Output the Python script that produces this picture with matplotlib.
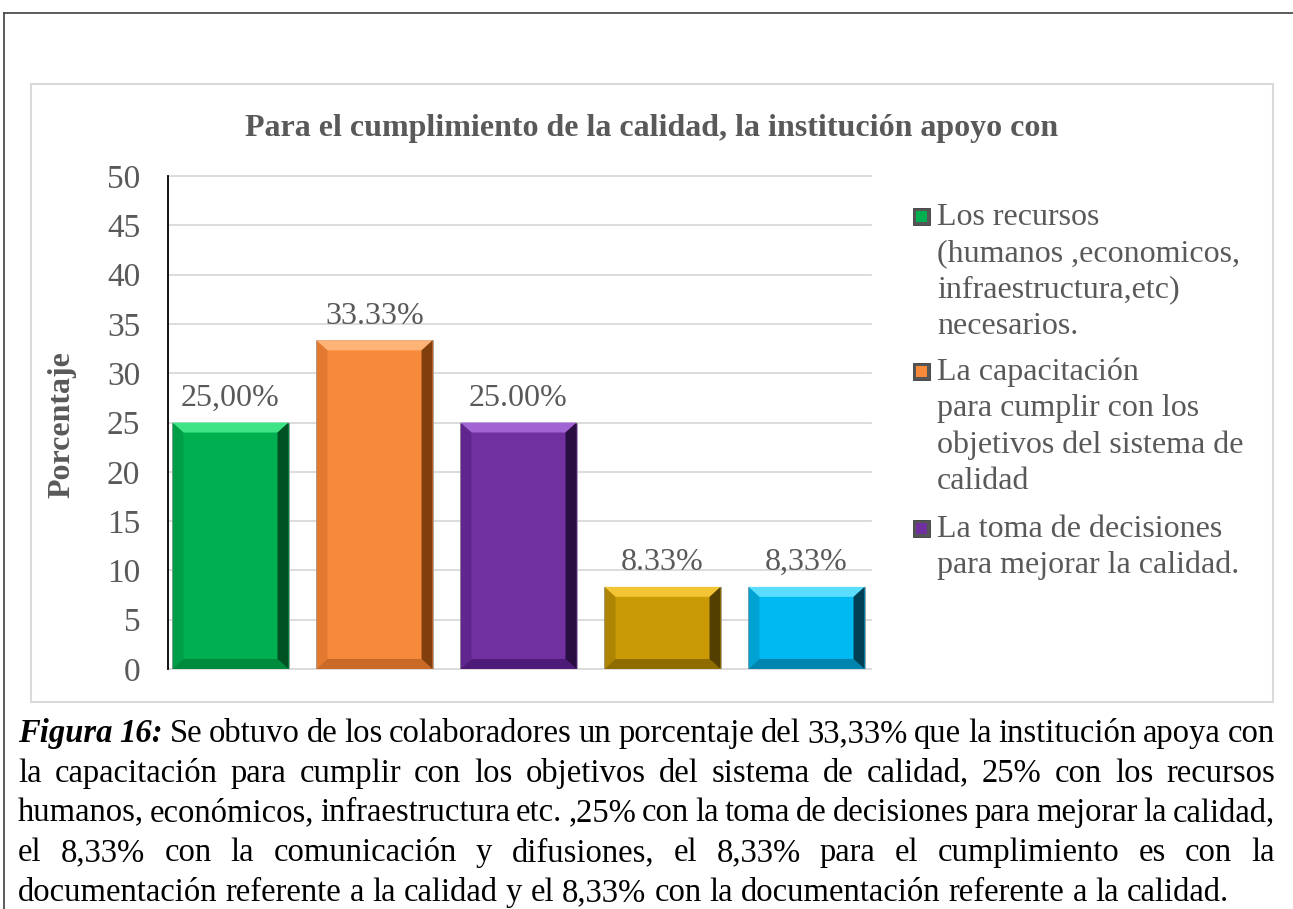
import numpy as np
import matplotlib
matplotlib.use("Agg")
import matplotlib.pyplot as plt
from matplotlib.patches import Rectangle, Polygon
from matplotlib.lines import Line2D

# datos
valores = [25.00, 33.33, 25.00, 8.33, 8.33]
etiquetas = ["25,00%", "33.33%", "25.00%", "8.33%", "8,33%"]
colores = ["#00B050", "#F7893B", "#7030A0", "#C99A06", "#00B9F2"]
# (claro, oscuro, medio) para el biselado
bisel = [("#3FE487", "#00401C", "#008A3E"),
         ("#FFB477", "#6E3206", "#C96A26"),
         ("#A264D2", "#1C0830", "#4F1B78"),
         ("#F3C433", "#3E3000", "#8E6C00"),
         ("#5ADDFF", "#002A38", "#0085AE")]
leyenda = ["Los recursos\n(humanos ,economicos,\ninfraestructura,etc)\nnecesarios.",
           "La capacitación\npara cumplir con los\nobjetivos del sistema de\ncalidad",
           "La toma de decisiones\npara mejorar la calidad."]
yticks = [0, 5, 10, 15, 20, 25, 30, 35, 40, 45, 50]
titulo = "Para el cumplimiento de la calidad, la institución apoyo con"
ylabel = "Porcentaje"
pie = [
    [("Figura", "bi"), ("16:", "bi")] + [(w, "r") for w in
        "Se obtuvo de los colaboradores un porcentaje del 33,33% que la institución apoya con".split()],
    [(w, "r") for w in
        "la capacitación para cumplir con los objetivos del sistema de calidad, 25% con los recursos".split()],
    [(w, "r") for w in
        "humanos, económicos, infraestructura etc. ,25% con la toma de decisiones para mejorar la calidad,".split()],
    [(w, "r") for w in
        "el 8,33% con la comunicación y difusiones, el 8,33% para el cumplimiento es con la".split()],
    [(w, "r") for w in
        "documentación referente a la calidad y el 8,33% con la documentación referente a la calidad.".split()],
]

W, H = 1293, 909
FONT = "Liberation Serif"
GRIS = "#595959"
plt.rcParams["font.family"] = [FONT, "DejaVu Serif"]


def fx(x):
    return x / W


def fy(y):
    return 1 - y / H


fig = plt.figure(figsize=(W / 100, H / 100), dpi=100)
fig.patch.set_facecolor("white")

# marcos
fig.add_artist(Line2D([fx(4), fx(W)], [fy(13), fy(13)], color="#404040", lw=1.2))
fig.add_artist(Line2D([fx(4), fx(4)], [fy(13), fy(H)], color="#404040", lw=1.2))
fig.add_artist(Rectangle((fx(31), fy(702)), fx(1273) - fx(31), fy(84) - fy(702),
                         transform=fig.transFigure, fill=False, ec="#D9D9D9", lw=1.5))

ax = fig.add_axes([fx(168), fy(669), fx(871) - fx(168), fy(176) - fy(669)])
x = np.arange(len(valores))
ax.set_xlim(-0.434, 4.448)
ax.set_ylim(0, 50)
ax.set_yticks(yticks)
ax.set_xticks([])
ax.tick_params(axis="y", length=0, pad=20, labelsize=24, labelcolor=GRIS)
for s in ["top", "right", "bottom"]:
    ax.spines[s].set_visible(False)
ax.spines["left"].set_color("black")
ax.spines["left"].set_linewidth(1.3)
ax.yaxis.grid(True, color="#D9D9D9", lw=1.3)
for gl in ax.get_ygridlines():
    gl.set_clip_on(False)
ax.set_axisbelow(True)
ax.patch.set_alpha(0)

bars = ax.bar(x, valores, width=0.806, color=colores, edgecolor="#A0A0A0", linewidth=0.6, zorder=2)

dx = 11 / 144
dy = 10 / (493 / 50)
for b, (cl, co, cm) in zip(bars, bisel):
    x0, x1 = b.get_x(), b.get_x() + b.get_width()
    y1 = b.get_height()
    y0 = 0
    top = [(x0, y1), (x1, y1), (x1 - dx, y1 - dy), (x0 + dx, y1 - dy)]
    der = [(x1, y1), (x1, y0), (x1 - dx, y0 + dy), (x1 - dx, y1 - dy)]
    inf = [(x0, y0), (x1, y0), (x1 - dx, y0 + dy), (x0 + dx, y0 + dy)]
    izq = [(x0, y0), (x0, y1), (x0 + dx, y1 - dy), (x0 + dx, y0 + dy)]
    ax.add_patch(Polygon(top, closed=True, fc=cl, ec="none", zorder=3))
    ax.add_patch(Polygon(inf, closed=True, fc=cm, ec="none", zorder=3))
    ax.add_patch(Polygon(izq, closed=True, fc=cm, ec="none", alpha=0.45, zorder=3))
    ax.add_patch(Polygon(der, closed=True, fc=co, ec="none", alpha=0.85, zorder=3))

for b, lab in zip(bars, etiquetas):
    ax.annotate(lab, (b.get_x() + b.get_width() / 2, b.get_height()),
                xytext=(0, 12), textcoords="offset points",
                ha="center", va="baseline", fontsize=23, color=GRIS)

fig.text(fx(652), fy(136), titulo, ha="center", va="baseline",
         fontsize=23, fontweight="bold", color=GRIS)
fig.text(fx(62), fy(425), ylabel, ha="center", va="center", rotation=90,
         fontsize=23, fontweight="bold", color=GRIS)

# leyenda (solo se ven tres entradas)
base = [225, 380, 537]
for lab, y0, c, (cl, co, cm) in zip(leyenda, base, colores, bisel):
    fig.add_artist(Rectangle((fx(913), fy(y0)), 17 / W, 17 / H, transform=fig.transFigure,
                             fc="#555555", ec="#3A3A3A", lw=0.6))
    fig.add_artist(Rectangle((fx(916), fy(y0 - 3)), 11 / W, 11 / H, transform=fig.transFigure,
                             fc=c, ec="none"))
    for k, linea in enumerate(lab.split("\n")):
        fig.text(fx(937), fy(y0 + 36.3 * k), linea, ha="left", va="baseline",
                 fontsize=23, color=GRIS)

# pie de figura justificado
fig.canvas.draw()
rend = fig.canvas.get_renderer()
estilos = {"r": dict(fontstyle="normal", fontweight="normal"),
           "bi": dict(fontstyle="italic", fontweight="bold")}
FS_PIE = 23.5
tmp = fig.text(0, 0, "a a", fontsize=FS_PIE)
w_aa = tmp.get_window_extent(rend).width
tmp.set_text("aa")
esp = w_aa - tmp.get_window_extent(rend).width
tmp.remove()

izq_px, der_px = 18, 1275
for i, tokens in enumerate(pie):
    yb = 742 + 39.7 * i
    arts = []
    for w, st in tokens:
        t = fig.text(0, fy(yb), w, ha="left", va="baseline", fontsize=FS_PIE,
                     color="black", **estilos[st])
        arts.append((t, t.get_window_extent(rend).width))
    total = sum(a[1] for a in arts)
    if i < len(pie) - 1:
        gap = (der_px - izq_px - total) / (len(arts) - 1)
    else:
        gap = esp
    xp = izq_px
    for t, wd in arts:
        t.set_x(fx(xp))
        xp += wd + gap

fig.savefig("out.png", dpi=100)
